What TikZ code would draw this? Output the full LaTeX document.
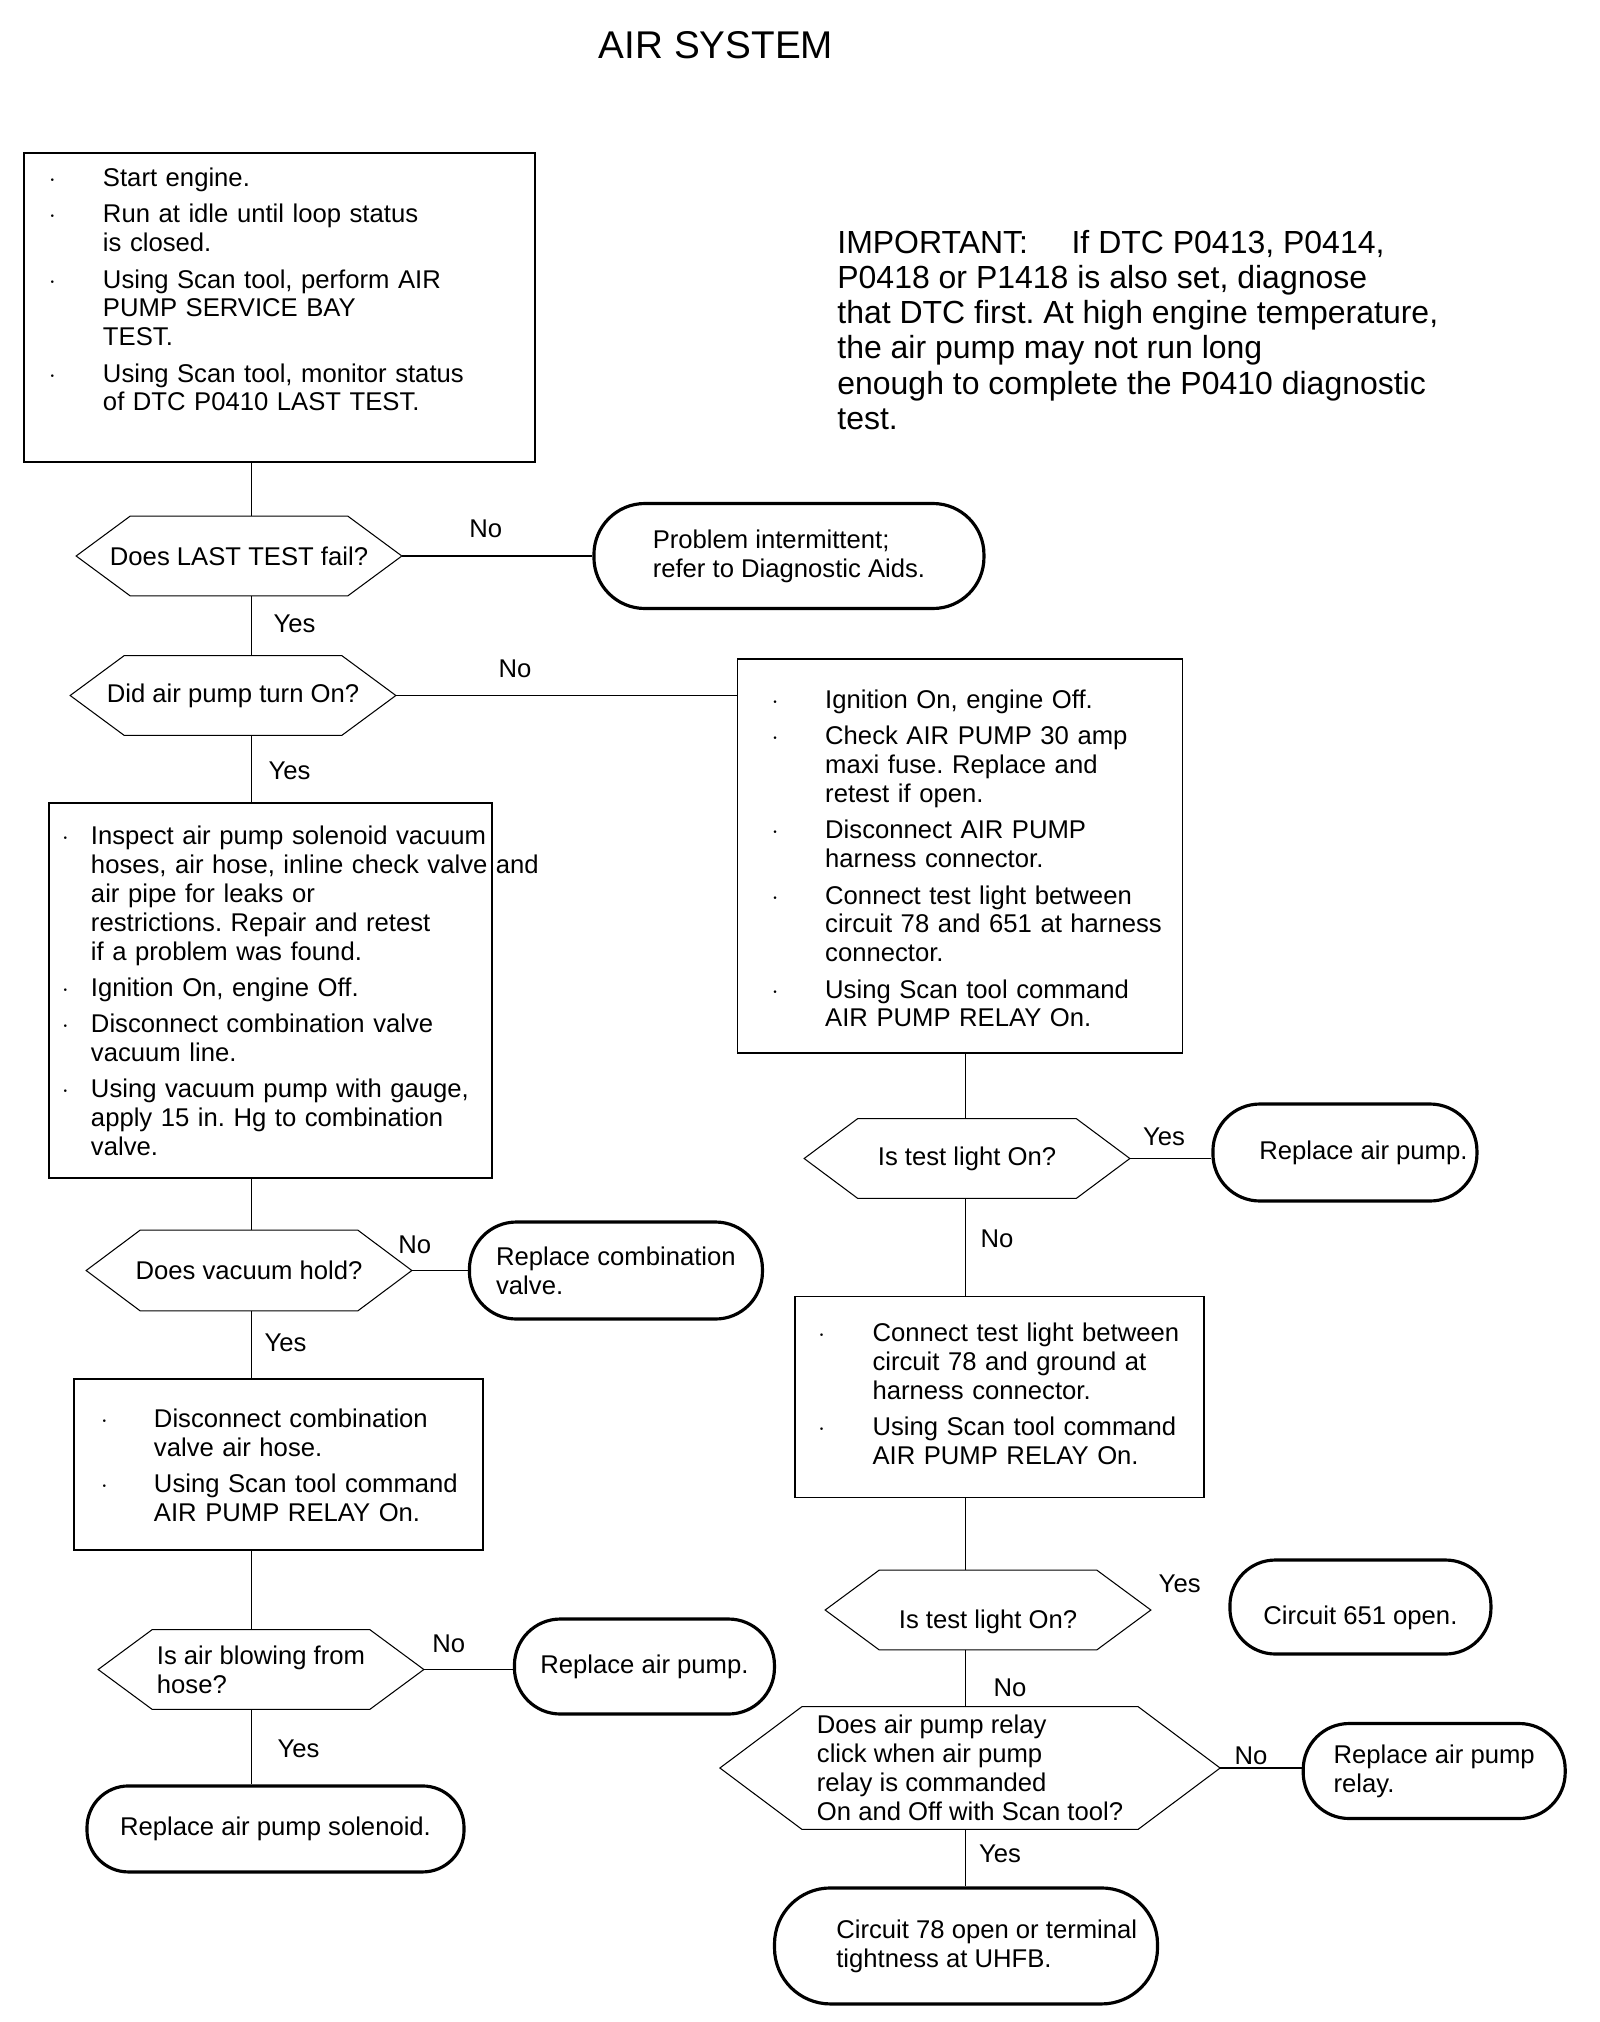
\documentclass[tikz,border=0pt]{standalone}
\usepackage{fontspec}
\setmainfont{Liberation Sans}
\usetikzlibrary{positioning}
\frenchspacing

\begin{document}
\begin{tikzpicture}[
  x=0.2mm, y=-0.2mm,
  font=\fontsize{14.6}{16.4}\selectfont,
  stepbox/.style={draw, line width=0.8pt, inner ysep=0.5mm, align=left},
  decision/.style={minimum width=65mm, minimum height=15.8mm, inner sep=1mm, align=left},
  hexline/.style={line width=0.6pt},
  term/.style={draw, line width=1.8pt, inner sep=1mm, align=left},
  link/.style={line width=0.6pt},
  linkw/.style={line width=1.1pt},
  lab/.style={inner sep=0pt}
]
\path[use as bounding box, fill=white] (0,0) rectangle (1600,2022);

\node[font=\fontsize{22}{26}\selectfont] (title) at (716,45) {AIR SYSTEM};

\node[anchor=north west, inner sep=0pt, align=left, font=\fontsize{18.2}{20}\selectfont] (note) at (837,230) {%
IMPORTANT:\hspace{8.7mm}If DTC P0413, P0414,\\
P0418 or P1418 is also set, diagnose\\
that DTC first. At high engine temperature,\\
the air pump may not run long\\
enough to complete the P0410 diagnostic\\
test.};

% left column
\coordinate (spineL) at (251.5,0);
\coordinate (spineR) at (965.5,0);

\node[stepbox, minimum width=102.2mm, minimum height=61.8mm, inner xsep=5mm, text width=92.2mm] (start) at (279.5,307.5) {%
\begin{tabular}{@{}p{10.8mm}@{}l@{}}
$\cdot$ & Start engine.\\[1.5mm]
$\cdot$ & Run at idle until loop status\\
 & is closed.\\[1.5mm]
$\cdot$ & Using Scan tool, perform AIR\\
 & PUMP SERVICE BAY\\
 & TEST.\\[1.5mm]
$\cdot$ & Using Scan tool, monitor status\\
 & of DTC P0410 LAST TEST.\\[5.8mm]
\end{tabular}};

\node[decision] (lasttest) at (239,556) {Does LAST TEST fail?};
\node[term, minimum width=78mm, minimum height=21mm, rounded corners=10.2mm, right=38.1mm of lasttest] (intermit) {Problem intermittent;\\refer to Diagnostic Aids.};

\node[decision] (pumpon) at (233,695.5) {Did air pump turn On?};

\node[stepbox, minimum width=88.6mm, minimum height=75mm, inner xsep=2.6mm, text width=83.4mm] (inspect) at (270.5,990.5) {%
\begin{tabular}{@{}p{5.8mm}@{}l@{}}
\noalign{\vskip1.6mm}
$\cdot$ & Inspect air pump solenoid vacuum\\
 & hoses, air hose, inline check valve\rlap{ and}\\
 & air pipe for leaks or\\
 & restrictions. Repair and retest\\
 & if a problem was found.\\[1.5mm]
$\cdot$ & Ignition On, engine Off.\\[1.5mm]
$\cdot$ & Disconnect combination valve\\
 & vacuum line.\\[1.5mm]
$\cdot$ & Using vacuum pump with gauge,\\
 & apply 15 in. Hg to combination\\
 & valve.
\end{tabular}};

\node[decision, minimum height=16mm] (vachold) at (249,1270.5) {Does vacuum hold?};
\node[term, minimum width=58.6mm, minimum height=19.4mm, rounded corners=9.4mm, right=11.2mm of vachold] (combo) {Replace combination\\valve.};

\node[stepbox, minimum width=81.8mm, minimum height=34.2mm, inner xsep=5.4mm, text width=71mm] (hose) at (278.5,1464.5) {%
\begin{tabular}{@{}p{10.6mm}@{}l@{}}
\noalign{\vskip1.6mm}
$\cdot$ & Disconnect combination\\
 & valve air hose.\\[1.5mm]
$\cdot$ & Using Scan tool command\\
 & AIR PUMP RELAY On.
\end{tabular}};

\node[decision] (airblow) at (261,1669.5) {Is air blowing from\\hose?};
\node[term, minimum width=52mm, minimum height=19mm, rounded corners=9.2mm, right=17.8mm of airblow, yshift=0.6mm] (pump1) {Replace air pump.};
\node[term, minimum width=75.4mm, minimum height=17.2mm, rounded corners=8.3mm, below=15mm of airblow, xshift=2.9mm] (solenoid) {Replace air pump solenoid.};

% right column
\node[stepbox, minimum width=89mm, minimum height=78.8mm, inner xsep=6.9mm, text width=75.2mm] (fuse) at (959.7,856) {%
\begin{tabular}{@{}p{10.7mm}@{}l@{}}
\noalign{\vskip2.4mm}
$\cdot$ & Ignition On, engine Off.\\[1.5mm]
$\cdot$ & Check AIR PUMP 30 amp\\
 & maxi fuse. Replace and\\
 & retest if open.\\[1.5mm]
$\cdot$ & Disconnect AIR PUMP\\
 & harness connector.\\[1.5mm]
$\cdot$ & Connect test light between\\
 & circuit 78 and 651 at harness\\
 & connector.\\[1.5mm]
$\cdot$ & Using Scan tool command\\
 & AIR PUMP RELAY On.
\end{tabular}};

\node[decision] (light1) at (967,1158.5) {Is test light On?};
\node[term, minimum width=52.8mm, minimum height=19.4mm, rounded corners=9.4mm, right=16.3mm of light1, yshift=1.2mm] (pump2) {\hspace*{7.4mm}Replace air pump.};

\node[stepbox, minimum width=81.8mm, minimum height=40.2mm, inner xsep=4.6mm, text width=72.6mm] (ground) at (999.5,1397) {%
\begin{tabular}{@{}p{10.9mm}@{}l@{}}
$\cdot$ & Connect test light between\\
 & circuit 78 and ground at\\
 & harness connector.\\[1.5mm]
$\cdot$ & Using Scan tool command\\
 & AIR PUMP RELAY On.
\end{tabular}};

\node[decision, text height=8.4mm] (light2) at (988,1610) {Is test light On?};
\node[term, minimum width=52.2mm, minimum height=18.8mm, rounded corners=9.1mm, text height=8.2mm, right=15.5mm of light2, yshift=0.6mm] (c651) {Circuit 651 open.};

\node[decision, minimum width=99.9mm, minimum height=24.4mm] (click) at (970,1768) {Does air pump relay\\click when air pump\\relay is commanded\\On and Off with Scan tool?};
\node[term, minimum width=52.4mm, minimum height=19mm, rounded corners=9.2mm, right=16.3mm of click, yshift=-0.6mm] (relay) {Replace air pump\\relay.};
\node[term, minimum width=76.6mm, minimum height=23.2mm, rounded corners=11.2mm, below=11.4mm of click, xshift=-0.8mm] (uhfb) {\hspace*{8.3mm}Circuit 78 open or terminal\\\hspace*{8.3mm}tightness at UHFB.};

% decision outlines
\foreach \d/\c in {lasttest/10.8mm, pumpon/10.8mm, vachold/10.8mm, airblow/10.8mm, light1/10.7mm, light2/10.8mm, click/16.4mm}
  \draw[hexline] (\d.west) -- ([xshift=\c]\d.north west) -- ([xshift=-\c]\d.north east) -- (\d.east) -- ([xshift=-\c]\d.south east) -- ([xshift=\c]\d.south west) -- cycle;

% connectors
\draw[link] (start.south -| spineL) -- (lasttest.north -| spineL);
\draw[linkw] (lasttest.east) -- node[lab, pos=.44, above=3.4mm] (no1) {No} (intermit.west);
\draw[link] (lasttest.south -| spineL) -- node[lab, pos=.475, right=4.3mm] (yes1) {Yes} (pumpon.north -| spineL);
\draw[linkw] (pumpon.east) -- node[lab, pos=.35, above=3.3mm] (no2) {No} (pumpon.east -| fuse.west);
\draw[link] (pumpon.south -| spineL) -- node[lab, pos=.53, right=3.3mm] (yes2) {Yes} (inspect.north -| spineL);
\draw[link] (inspect.south -| spineL) -- (vachold.north -| spineL);
\draw[link] (vachold.east) -- node[lab, pos=.05, above=3.2mm] (no3) {No} (vachold.east -| combo.west);
\draw[link] (vachold.south -| spineL) -- node[lab, pos=.47, right=2.5mm] (yes3) {Yes} (hose.north -| spineL);
\draw[link] (hose.south -| spineL) -- (airblow.north -| spineL);
\draw[linkw] (airblow.east) -- node[lab, pos=.28, above=3.1mm] (no4) {No} (airblow.east -| pump1.west);
\draw[link] (airblow.south -| spineL) -- node[lab, pos=.52, right=5.1mm] (yes4) {Yes} (solenoid.north -| spineL);

\draw[link] (fuse.south -| spineR) -- (light1.north -| spineR);
\draw[link] (light1.east) -- node[lab, pos=.42, above=2.5mm] (yes5) {Yes} (light1.east -| pump2.west);
\draw[link] (light1.south -| spineR) -- node[lab, pos=.41, right=2.9mm] (no5) {No} (ground.north -| spineR);
\draw[link] (ground.south -| spineR) -- (light2.north -| spineR);
\node[lab, above right=3.4mm and 1.5mm of light2.east] (yes6) {Yes};
\draw[link] (light2.south -| spineR) -- node[lab, pos=.67, right=5.5mm] (no6) {No} (click.north -| spineR);
\draw[link] (click.east) -- node[lab, pos=.38, above=0.6mm] (no7) {No} (click.east -| relay.west);
\draw[link] (click.south -| spineR) -- node[lab, pos=.42, right=2.6mm] (yes7) {Yes} (uhfb.north -| spineR);
\end{tikzpicture}
\end{document}
